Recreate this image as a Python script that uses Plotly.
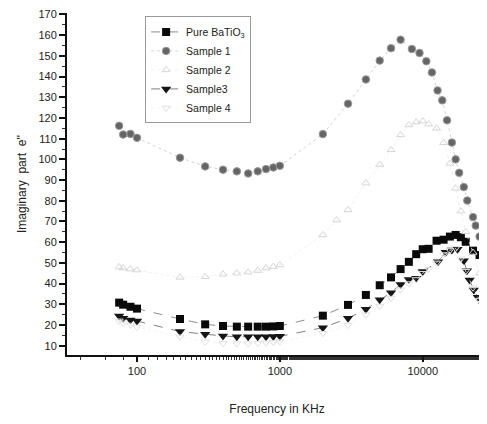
import plotly.graph_objects as go

# Frequencies (KHz)
freq_low = [75, 80, 90, 100, 200, 300, 400, 500, 600, 700, 800, 900, 1000]
freq_high = [2000, 3000, 4000, 5000, 6000, 7000, 8000, 9000, 10000, 11000,
             12500, 14000, 15500, 17000, 18500, 20000, 22500, 25000, 28000]
freq = freq_low + freq_high

pure_batio3 = [30.8, 29.8, 28.8, 27.9, 22.9, 20.3, 19.5, 19.2, 19.2, 19.2, 19.2, 19.3, 19.5,
               24.5, 29.7, 34.5, 39.2, 43.0, 47.0, 50.5, 54.2, 56.6, 56.8,
               60.7, 61.2, 62.7, 63.5, 62.4, 60.2, 55.9, 53.8, 52.0]

freq_s1 = [75, 80, 90, 100, 200, 300, 400, 500, 600, 700, 800, 900, 1000,
           2000, 3000, 4000, 5000, 6000, 7000, 8400, 9500, 10600, 11600, 12700,
           13700, 14800, 16000, 17000, 18000, 19400, 20500, 22500, 23500, 25000, 26500]
sample1 = [116.2, 112.0, 112.3, 110.4, 100.8, 96.6, 95.0, 94.2, 93.2, 94.2, 95.3, 96.1, 96.9,
           112.2, 126.9, 138.6, 147.7, 153.7, 157.8, 153.3, 151.4, 147.4, 142.0, 133.3,
           128.5, 118.9, 108.1, 100.0, 93.5, 86.6, 80.1, 72.1, 68.0, 62.7, 59.5]

freq_s2 = [75, 80, 90, 100, 200, 300, 400, 500, 600, 700, 800, 900, 1000,
           2000, 2500, 3000, 4000, 5000, 6000, 7000, 8000, 9000, 10000, 11000,
           12500, 14000, 15500, 17000, 18500, 20000, 22500, 25000, 28000]
sample2 = [48.0, 47.5, 47.0, 46.5, 43.0, 43.3, 44.5, 45.0, 45.5, 46.3, 47.5, 48.2, 49.0,
           63.5, 70.7, 75.6, 88.5, 97.5, 104.6, 111.8, 116.6, 118.0, 118.5, 117.0,
           115.0, 108.0, 98.0, 86.0, 75.0, 65.0, 55.0, 45.0, 38.0]

freq_s3 = [75, 80, 90, 100, 200, 300, 400, 500, 600, 700, 800, 900, 1000,
           2000, 3000, 4000, 5000, 6000, 7000, 8000, 9000, 10000, 12800, 14500,
           16000, 17500, 19400, 20400, 21300, 22800, 24300, 26500, 29000]
sample3 = [24.3, 23.2, 22.4, 21.9, 16.8, 15.5, 14.7, 14.3, 14.3, 14.3, 14.3, 14.4, 14.5,
           18.7, 23.2, 27.6, 32.2, 35.6, 39.6, 42.0, 42.6, 45.8, 50.6, 55.1,
           56.2, 56.6, 51.0, 46.2, 41.7, 36.9, 33.4, 29.7, 26.0]

sample4 = [22.0, 21.0, 20.0, 19.0, 14.3, 11.9, 11.1, 11.0, 11.0, 11.2, 11.4, 11.6, 12.0,
           16.0, 20.0, 25.0, 29.0, 33.0, 37.0, 40.0, 42.0, 45.0, 47.0,
           50.0, 54.0, 56.0, 57.0, 52.0, 46.0, 38.0, 32.0, 27.0]

y_ticks = list(range(10, 171, 10))

fig = go.Figure()
fig.add_trace(go.Scatter(x=freq, y=pure_batio3, name="Pure BaTiO<sub>3</sub>",
                         mode="lines+markers",
                         line=dict(color="#707070", width=0.8, dash="dash"),
                         marker=dict(symbol="square", size=8, color="#0a0a0a")))
fig.add_trace(go.Scatter(x=freq_s1, y=sample1, name="Sample 1",
                         mode="lines+markers",
                         line=dict(color="#c8c8c8", width=0.8, dash="dot"),
                         marker=dict(symbol="circle", size=7.5, color="#656565",
                                     line=dict(color="#9a9a9a", width=1))))
fig.add_trace(go.Scatter(x=freq_s2, y=sample2, name="Sample 2",
                         mode="lines+markers",
                         line=dict(color="#ececec", width=0.8, dash="dot"),
                         marker=dict(symbol="triangle-up-open", size=7, color="#d6d6d6")))
fig.add_trace(go.Scatter(x=freq_s3, y=sample3, name="Sample3",
                         mode="lines+markers",
                         line=dict(color="#606060", width=0.8, dash="dash"),
                         marker=dict(symbol="triangle-down", size=9, color="#151515")))
fig.add_trace(go.Scatter(x=freq, y=sample4, name="Sample 4",
                         mode="lines+markers",
                         line=dict(color="#f0f0f0", width=0.8, dash="dot"),
                         marker=dict(symbol="triangle-down-open", size=7, color="#e0e0e0")))

fig.update_layout(
    width=479, height=416,
    margin=dict(l=59, r=0, t=5, b=69),
    paper_bgcolor="white", plot_bgcolor="white",
    font=dict(family="Liberation Sans, Arial, sans-serif", color="#222222", size=11),
    showlegend=True,
    legend=dict(x=0.186, y=0.99, xanchor="left", yanchor="top",
                bordercolor="#9a9a9a", borderwidth=1, bgcolor="rgba(255,255,255,0)",
                font=dict(size=10.5), tracegroupgap=0, itemwidth=30),
    xaxis=dict(type="log", range=[1.51, 4.45], showgrid=False, zeroline=False,
               automargin=False,
               showline=True, linecolor="#111111", linewidth=2,
               ticks="outside", ticklen=5, tickwidth=1.5, tickcolor="#111111",
               tickvals=[100, 1000, 10000], ticktext=["100", "1000", "10000"],
               minor=dict(ticks="outside", ticklen=3, tickwidth=1, tickcolor="#333333",
                          showgrid=False),
               title=dict(text="Frequency in KHz", standoff=28, font=dict(size=12))),
    yaxis=dict(range=[5.5, 170.7], showgrid=False, zeroline=False,
               automargin=False,
               showline=True, linecolor="#111111", linewidth=2,
               ticks="outside", ticklen=6, tickwidth=1.5, tickcolor="#111111",
               tickvals=y_ticks,
               minor=dict(ticks="outside", ticklen=3, tickwidth=1, tickcolor="#333333",
                          dtick=5, showgrid=False),
               title=dict(text="Imaginary  part  e''", standoff=9, font=dict(size=12))),
)

fig.write_html("out.html")
